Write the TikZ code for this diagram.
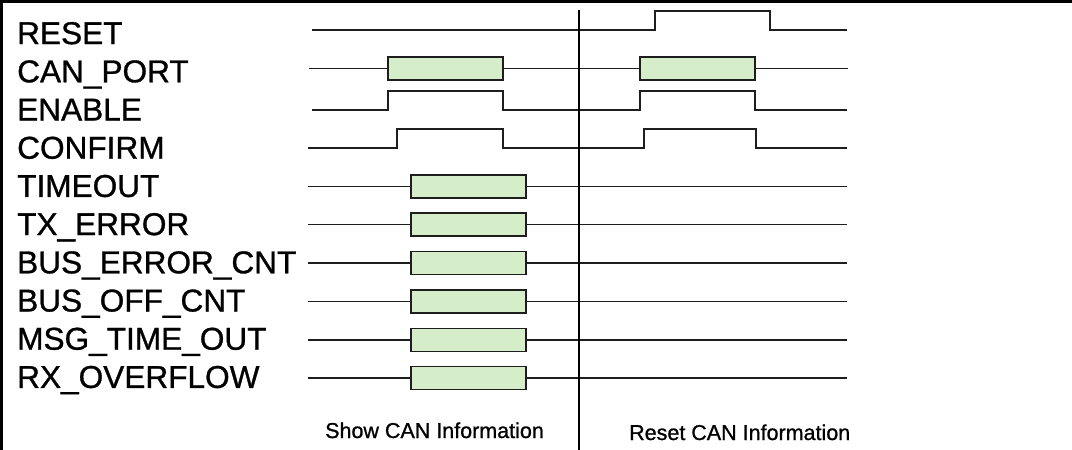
\documentclass[tikz,border=0pt]{standalone}
\usepackage{fontspec}
\setmainfont{Liberation Sans}
\newfontfamily\heavyfont[FakeBold=0.9]{Liberation Sans}
\definecolor{boxgreen}{RGB}{213,237,200}
\definecolor{sigline}{RGB}{30,30,30}
\begin{document}
\begin{tikzpicture}[x=1pt,y=-1pt,
  sig/.style={line width=1.4pt, draw=sigline},
  databox/.style={draw=sigline, fill=boxgreen, line width=1.4pt},
  lab/.style={anchor=base west, inner sep=0pt, font=\heavyfont\fontsize{31.6}{31.6}\selectfont},
  caption/.style={anchor=base west, inner sep=0pt, font=\heavyfont\fontsize{21.5}{21.5}\selectfont},
  frameline/.style={line width=2.5pt, draw=black},
  divider/.style={line width=2pt, draw=black}]
\useasboundingbox (0,0) rectangle (1072,450);
% frame
\draw[frameline] (0,1.5) -- (1072,1.5);
\draw[frameline] (1.5,0) -- (1.5,450);
% labels
\node[lab] (lreset)   at (17,44.1)  {RESET};
\node[lab] (lcan)     at (17,82.3)  {CAN\_PORT};
\node[lab] (lenable)  at (17,120.5) {ENABLE};
\node[lab] (lconfirm) at (17,158.7) {CONFIRM};
\node[lab] (ltimeout) at (17,196.9) {TIMEOUT};
\node[lab] (ltx)      at (17,235.1) {TX\_ERROR};
\node[lab] (lbuserr)  at (17,273.3) {BUS\_ERROR\_CNT};
\node[lab] (lbusoff)  at (17,311.5) {BUS\_OFF\_CNT};
\node[lab] (lmsg)     at (17,349.7) {MSG\_TIME\_OUT};
\node[lab] (lrx)      at (17,387.9) {RX\_OVERFLOW};
% RESET
\draw[sig] (312,30) -- (655,30) -- (655,11) -- (770,11) -- (770,30) -- (847,30);
% CAN_PORT
\draw[sig] (309,68.5) -- (388,68.5);
\draw[sig] (503,68.5) -- (640,68.5);
\draw[sig] (755,68.5) -- (848,68.5);
\draw[databox] (388,57) rectangle (503,80);
\draw[databox] (640,57) rectangle (755,80);
% ENABLE
\draw[sig] (312,110) -- (388,110) -- (388,91) -- (503,91) -- (503,110) -- (640,110) -- (640,91) -- (755,91) -- (755,110) -- (847,110);
% CONFIRM
\draw[sig] (308,148) -- (397,148) -- (397,129) -- (503,129) -- (503,148) -- (644,148) -- (644,129) -- (756,129) -- (756,148) -- (847,148);
% data rows
\foreach \yy in {186.5,224.5,263,301.5,340,378}{
  \draw[sig] (308,\yy) -- (411,\yy);
  \draw[sig] (526,\yy) -- (847,\yy);
  \draw[databox] (411,\yy-11.5) rectangle (526,\yy+11.5);
}
% divider
\draw[divider] (579,10) -- (579,450);
% captions
\node[caption] (cshow)  at (325,438) {Show CAN Information};
\node[caption] (creset) at (629,440) {Reset CAN Information};
\end{tikzpicture}
\end{document}
